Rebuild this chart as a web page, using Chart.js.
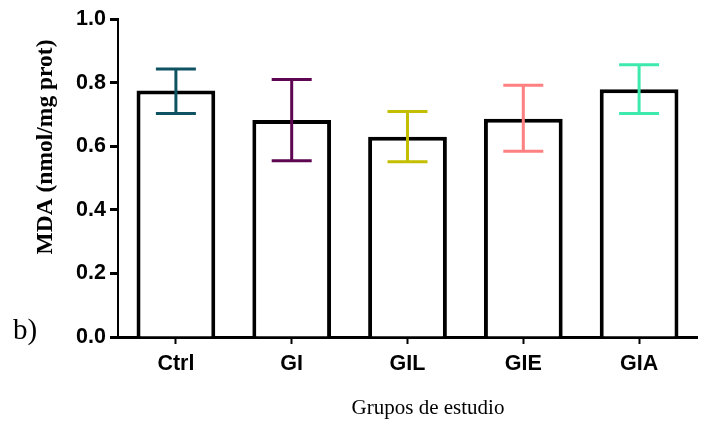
<!DOCTYPE html>
<html>
<head>
<meta charset="utf-8">
<script src="https://cdn.jsdelivr.net/npm/chart.js@4.4.0/dist/chart.umd.min.js"></script>
<style>
  body { margin: 0; background: #fff; }
  #wrap { width: 706px; height: 423px; }
</style>
</head>
<body>
<div id="wrap"><canvas id="grafico" width="706" height="423"></canvas></div>
<script>
const grupos = ['Ctrl', 'GI', 'GIL', 'GIE', 'GIA'];
const medias = [0.775, 0.682, 0.630, 0.686, 0.779];
const errAlto = [0.843, 0.810, 0.709, 0.792, 0.856];
const errBajo = [0.703, 0.554, 0.551, 0.584, 0.703];
const coloresError = ['#0f5363', '#5e0652', '#c3bf00', '#ff8080', '#3ee9ae'];
const ticksY = [0, 0.2, 0.4, 0.6, 0.8, 1.0];

const grafico = document.querySelector('#grafico');

// barras de error y textos sueltos
const extras = {
    id: 'extras',
    afterDatasetsDraw(chart) {
        const ctx = chart.ctx;
        const x = chart.scales.x;
        const y = chart.scales.y;
        ctx.save();
        ctx.lineWidth = 3;
        grupos.forEach((g, i) => {
            const cx = x.getPixelForValue(i);
            const top = y.getPixelForValue(errAlto[i]);
            const bot = y.getPixelForValue(errBajo[i]);
            ctx.strokeStyle = coloresError[i];
            ctx.beginPath();
            ctx.moveTo(cx, top);
            ctx.lineTo(cx, bot);
            ctx.moveTo(cx - 20, top);
            ctx.lineTo(cx + 20, top);
            ctx.moveTo(cx - 20, bot);
            ctx.lineTo(cx + 20, bot);
            ctx.stroke();
        });

        ctx.fillStyle = '#000';
        ctx.textAlign = 'center';
        ctx.textBaseline = 'middle';
        ctx.font = 'bold 23.5px "Liberation Serif"';
        ctx.translate(46, 147);
        ctx.rotate(-Math.PI / 2);
        ctx.fillText('MDA (nmol/mg prot)', 0, 0);
        ctx.restore();

        ctx.save();
        ctx.fillStyle = '#000';
        ctx.textAlign = 'center';
        ctx.textBaseline = 'middle';
        ctx.font = '21px "Liberation Serif"';
        ctx.fillText('Grupos de estudio', 428, 408);
        ctx.textAlign = 'left';
        ctx.font = '29px "Liberation Serif"';
        ctx.fillText('b)', 13, 331);
        ctx.restore();
    }
};

new Chart(grafico, {
    type: 'bar',
    data: {
        labels: grupos,
        datasets: [{
            data: medias,
            backgroundColor: '#ffffff',
            borderColor: '#000000',
            borderWidth: 4,
            borderSkipped: 'bottom',
            categoryPercentage: 1,
            barPercentage: 0.68
        }]
    },
    options: {
        responsive: false,
        animation: false,
        layout: { padding: { top: 19, right: 9, left: 0, bottom: 0 } },
        plugins: {
            legend: { display: false },
            tooltip: { enabled: false }
        },
        scales: {
            x: {
                afterFit: (s) => { s.height = 86; },
                grid: {
                    offset: false,
                    drawOnChartArea: false,
                    tickLength: 7,
                    tickWidth: 2,
                    tickColor: '#000'
                },
                border: { display: true, color: '#000', width: 3 },
                ticks: {
                    color: '#000',
                    padding: 7,
                    font: { family: '"Liberation Sans"', weight: 'bold', size: 21.5 }
                }
            },
            y: {
                min: 0,
                max: 1,
                afterFit: (s) => { s.width = 118; },
                afterBuildTicks: (s) => { s.ticks = ticksY.map(v => ({ value: v })); },
                grid: {
                    drawOnChartArea: false,
                    tickLength: 8,
                    tickWidth: 3,
                    tickColor: '#000'
                },
                border: { display: true, color: '#000', width: 2 },
                ticks: {
                    color: '#000',
                    padding: 4,
                    font: { family: '"Liberation Sans"', weight: 'bold', size: 21.5 },
                    callback: (v) => Number(v).toFixed(1)
                }
            }
        }
    },
    plugins: [extras]
});
</script>
</body>
</html>
